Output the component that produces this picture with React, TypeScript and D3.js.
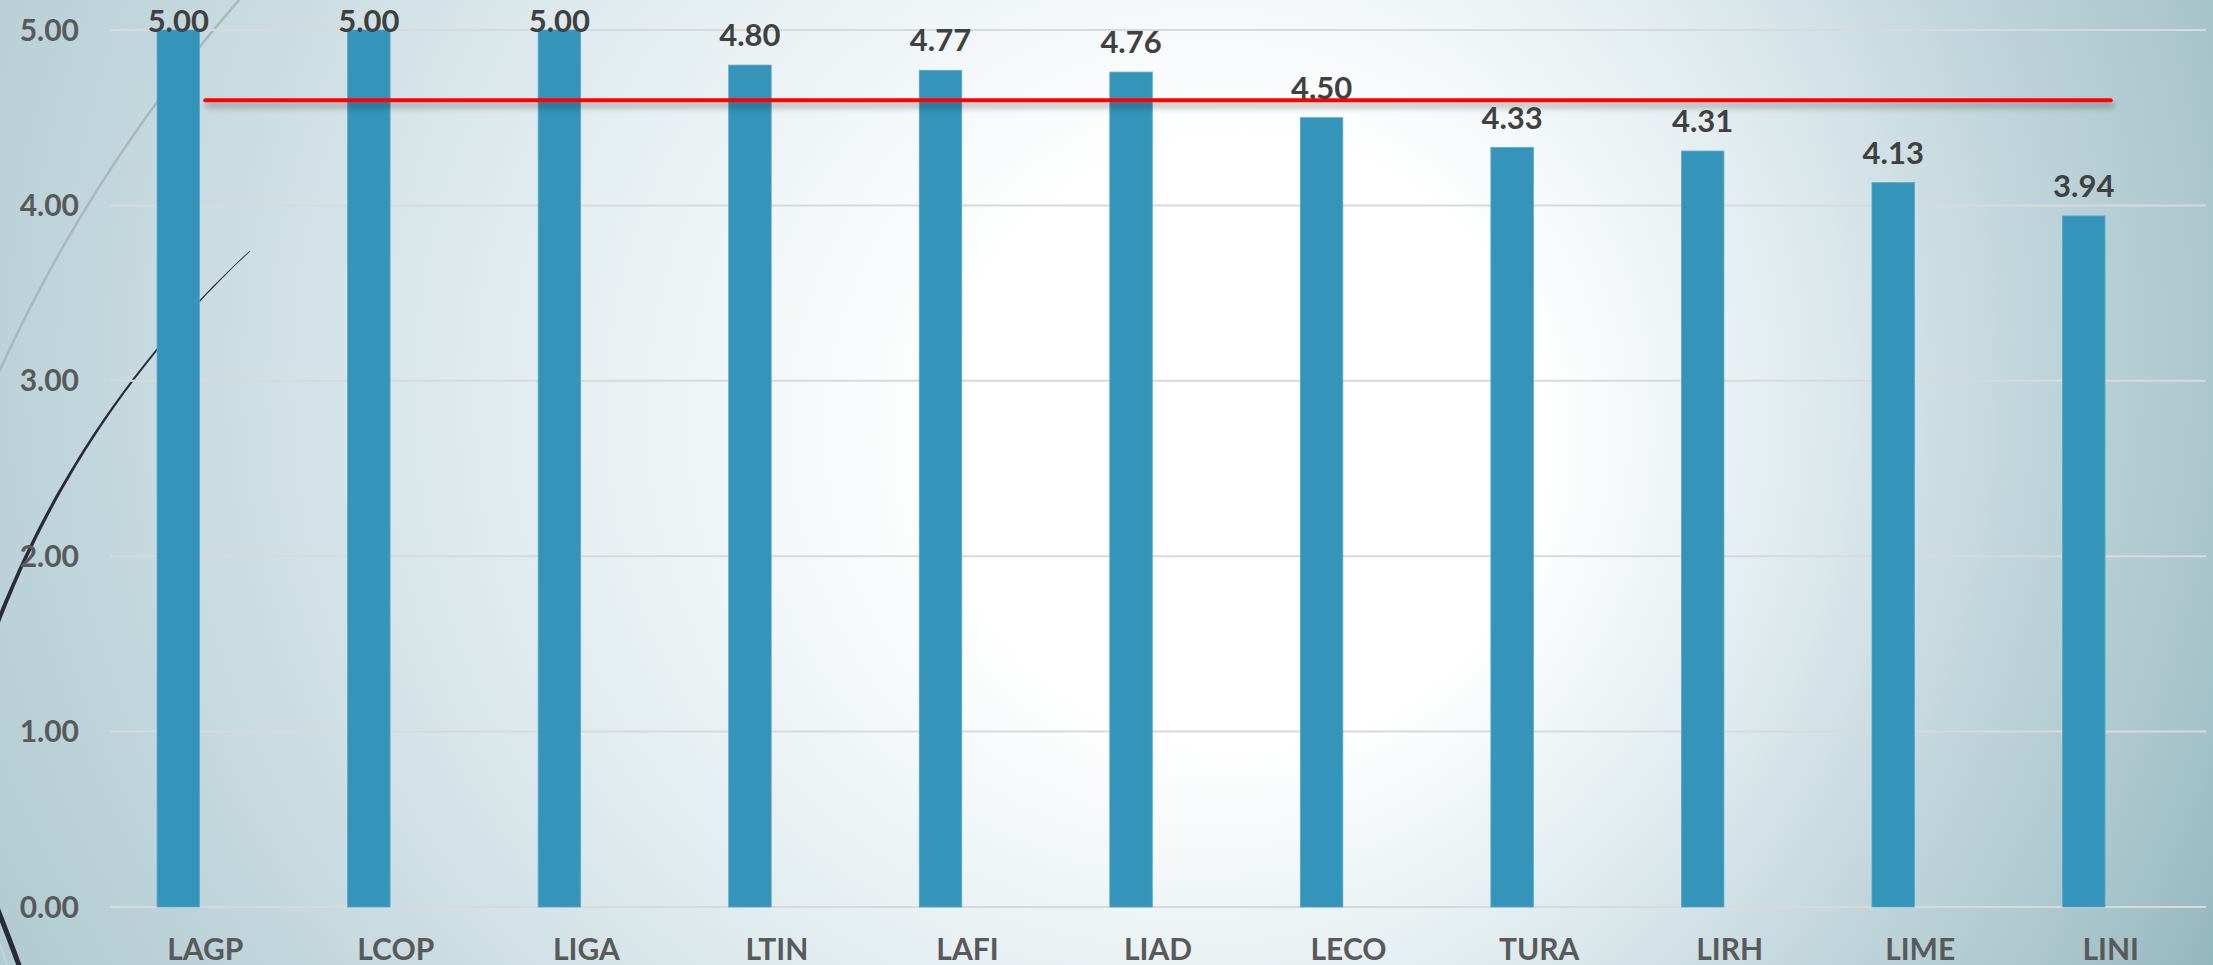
import React from "react";
import * as d3 from "d3";

const categories = ["LAGP", "LCOP", "LIGA", "LTIN", "LAFI", "LIAD", "LECO", "TURA", "LIRH", "LIME", "LINI"];
const values = [5.0, 5.0, 5.0, 4.8, 4.77, 4.76, 4.5, 4.33, 4.31, 4.13, 3.94];
const targetValue = 4.6;
const yTicks = [0, 1, 2, 3, 4, 5];

const W = 2213;
const H = 965;
const FONT = "Lato, 'Open Sans', 'DejaVu Sans', sans-serif";

function taperedArc(cx: number, cy: number, r: number, a0: number, a1: number, w0: number, w1: number) {
  const n = 60;
  const outer: [number, number][] = [];
  const inner: [number, number][] = [];
  for (let i = 0; i <= n; i++) {
    const t = i / n;
    const a = a0 + (a1 - a0) * t;
    const w = w0 + (w1 - w0) * t;
    outer.push([cx + (r + w / 2) * Math.cos(a), cy + (r + w / 2) * Math.sin(a)]);
    inner.push([cx + (r - w / 2) * Math.cos(a), cy + (r - w / 2) * Math.sin(a)]);
  }
  const pts = outer.concat(inner.reverse());
  return "M" + pts.map((p) => p[0].toFixed(1) + "," + p[1].toFixed(1)).join("L") + "Z";
}

export default function App() {
  const x = d3.scaleBand<string>().domain(categories).range([110, 2206]).padding(0);
  const y = d3.scaleLinear().domain([0, 5]).range([907, 30]);
  const bw = x.bandwidth();
  const barOffset = bw * 0.247;
  const barWidth = bw * 0.223;

  const targetLine = d3
    .line<string>()
    .x((c) => (x(c) as number) + bw / 2)
    .y(() => y(targetValue));

  // gray decorative arc (circle center (1379,999), r 1516)
  const grayPath = (() => {
    const cx = 1379.2, cy = 998.7, r = 1515.7;
    const a0 = Math.atan2(-998.7 - 10, 239 + 20 - cx);
    const a1 = Math.atan2(420 - cy, -20 - cx);
    const p0 = [cx + r * Math.cos(a0), cy + r * Math.sin(a0)];
    const p1 = [cx + r * Math.cos(a1), cy + r * Math.sin(a1)];
    return `M${p0[0]},${p0[1]} A${r},${r} 0 0 0 ${p1[0]},${p1[1]}`;
  })();

  const dcx = 924.8, dcy = 980.3, dr = 993.6;
  const dA0 = Math.atan2(251 - dcy, 250 - dcx);
  const dA1 = Math.atan2(680 - dcy, -30 - dcx);
  const darkPath = taperedArc(dcx, dcy, dr, dA0, dA1, 0.8, 4.5);

  return (
    <svg width={W} height={H} style={{ position: "absolute", left: 0, top: 0, display: "block" }}>
      <defs>
        <radialGradient
          id="bg"
          gradientUnits="userSpaceOnUse"
          cx={900}
          cy={300}
          r={1500}
          fx={1330}
          fy={480}
        >
          <stop offset="0" stopColor="#ffffff" />
          <stop offset="0.2" stopColor="#ffffff" />
          <stop offset="0.42" stopColor="#e3edf0" />
          <stop offset="0.68" stopColor="#bcd3d9" />
          <stop offset="0.84" stopColor="#a9c6cc" />
          <stop offset="1" stopColor="#91b4be" />
        </radialGradient>
        <filter id="shadow" filterUnits="userSpaceOnUse" x={0} y={60} width={W} height={90}>
          <feGaussianBlur in="SourceAlpha" stdDeviation="3" />
          <feOffset dx="2" dy="5" result="b" />
          <feFlood floodColor="#000" floodOpacity="0.35" />
          <feComposite in2="b" operator="in" />
          <feMerge>
            <feMergeNode />
            <feMergeNode in="SourceGraphic" />
          </feMerge>
        </filter>
      </defs>
      <rect x={0} y={0} width={W} height={H} fill="url(#bg)" />

      {/* decorative arcs */}
      <path d={grayPath} fill="none" stroke="#a9b8bf" strokeWidth={2.5} />
      <path d={darkPath} fill="#2b2a3b" />
      <path d="M-6,900 Q6,930 20,968" fill="none" stroke="#2b2a3b" strokeWidth={5} />
      <path d="M-6,930 Q2,948 8,968" fill="none" stroke="#c8d6db" strokeWidth={1.5} />

      {/* gridlines */}
      {yTicks.map((t) => (
        <line key={"g" + t} x1={110} x2={2206} y1={y(t)} y2={y(t)} stroke="#d9d9d9" strokeWidth={2} />
      ))}

      {/* y tick labels */}
      {yTicks.map((t) => (
        <text
          key={"yl" + t}
          x={79}
          y={y(t) + 10.5}
          textAnchor="end"
          fontFamily={FONT}
          fontWeight={700}
          fontSize={30}
          fill="#595959"
        >
          {t.toFixed(2)}
        </text>
      ))}

      {/* bars */}
      {categories.map((c, i) => (
        <rect
          key={"b" + c}
          x={(x(c) as number) + barOffset}
          y={y(values[i])}
          width={barWidth}
          height={y(0) - y(values[i])}
          fill="#3494ba"
          stroke="#5aa9c9"
          strokeWidth={0.8}
        />
      ))}

      {/* target line */}
      <path
        d={targetLine(categories) || ""}
        fill="none"
        stroke="#ff0000"
        strokeWidth={4}
        strokeLinecap="round"
        filter="url(#shadow)"
      />

      {/* value labels */}
      {categories.map((c, i) => (
        <text
          key={"v" + c}
          x={(x(c) as number) + barOffset + barWidth / 2}
          y={Math.max(y(values[i]) - 19, 32)}
          textAnchor="middle"
          fontFamily={FONT}
          fontWeight={700}
          fontSize={31}
          fill="#404040"
        >
          {values[i].toFixed(2)}
        </text>
      ))}

      {/* category labels */}
      {categories.map((c) => (
        <text
          key={"c" + c}
          x={(x(c) as number) + bw / 2}
          y={960}
          textAnchor="middle"
          fontFamily={FONT}
          fontWeight={700}
          fontSize={30}
          fill="#595959"
        >
          {c}
        </text>
      ))}
    </svg>
  );
}
